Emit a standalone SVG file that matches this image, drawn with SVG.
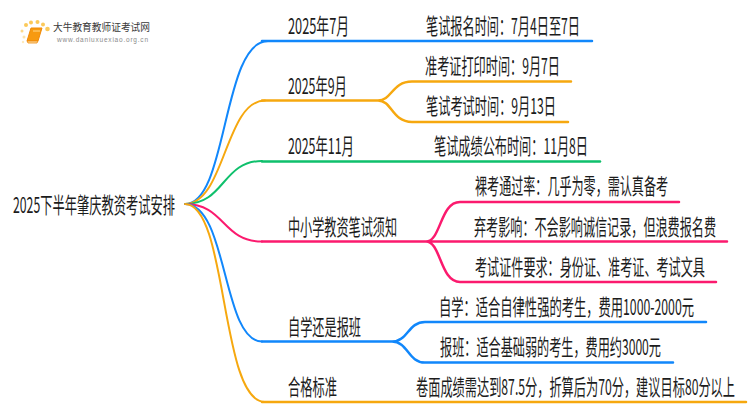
<svg xmlns="http://www.w3.org/2000/svg" width="750" height="410" viewBox="0 0 750 410">
<style>
text{font-family:"Noto Sans CJK SC","Liberation Sans",sans-serif;fill:#1c1c1c;font-size:22px}
.c{fill:none;stroke-linecap:round;stroke-linejoin:round}
.m{stroke-width:2}
.s{stroke-width:2.500}
.b{stroke:#1187fb}.o{stroke:#f6a80f}.g{stroke:#0fc06c}.p{stroke:#fb1a6e}
</style>
<rect width="750" height="410" fill="#ffffff"/>
<g id="logo">
<g fill="#fbc95a">
<circle cx="24" cy="37" r="1.500" opacity=".5"/><circle cx="22" cy="31" r="1.500" opacity=".7"/><circle cx="26" cy="25" r="2"/><circle cx="31" cy="22.500" r="2"/><circle cx="37.500" cy="22" r="2"/><circle cx="43" cy="24.500" r="2"/><circle cx="47.500" cy="29" r="2.300"/><circle cx="23" cy="42" r="1.200" opacity=".4"/>
</g>
<path d="M31 28H42L38 41H27Z" fill="#f79a10" stroke="#f08a08"/>
<path d="M27 41H38L37 43H28Z" fill="#fbd9a0" stroke="#f08a08" stroke-width=".8"/>
<path d="M33 31H40" stroke="#ffd98a" stroke-width="1"/>
<text x="53" y="31" textLength="97" lengthAdjust="spacingAndGlyphs" style="font-size:10.500px;fill:#3a3a3a">大牛教育教师证考试网</text>
<text x="57" y="41.500" textLength="91" lengthAdjust="spacing" style="font-size:6.500px;fill:#8a8a8a;font-family:'Liberation Sans',sans-serif">www.daniuxuexiao.org.cn</text>
</g>
<g id="connectors">
<path class="c m b" d="M185 204C228 204 222 41 268 41"/><path class="c s b" d="M262 41H592"/>
<path class="c m o" d="M185 204C225 204 225 100.500 265 100.500"/><path class="c s o" d="M262 100.500H378C392 100.500 392 81.500 412 81.500H571M378 100.500C392 100.500 392 122 412 122H568"/>
<path class="c m g" d="M185 204C225 204 222 161 262 161"/><path class="c s g" d="M262 161.500H600"/>
<path class="c m p" d="M185 204C225 204 222 241.500 262 241.500"/><path class="c s p" d="M262 241.500H727M426 241.500C441 241.500 440 202 460 202H679M426 241.500C441 241.500 440 282 460 282H716"/>
<path class="c m b" d="M185 204C228 204 222 341.500 262 341.500"/><path class="c s b" d="M262 341.500H392C408 341.500 408 322 425 322H706M392 341.500C408 341.500 408 362.500 425 362.500H673"/>
<path class="c m o" d="M185 204C228 204 220 402 265 402"/><path class="c s o" d="M262 402H746"/>
</g>
<g id="root"><text transform="translate(13 212.500) scale(.6 1)" textLength="270" lengthAdjust="spacingAndGlyphs">2025下半年肇庆教资考试安排</text></g>
<g id="n1"><text transform="translate(288 33.500) scale(.6 1)" textLength="101.700" lengthAdjust="spacingAndGlyphs">2025年7月</text><text transform="translate(426 33.500) scale(.6 1)" textLength="256.700" lengthAdjust="spacingAndGlyphs">笔试报名时间：7月4日至7日</text></g>
<g id="n2"><text transform="translate(288 93.500) scale(.6 1)" textLength="98.300" lengthAdjust="spacingAndGlyphs">2025年9月</text><text transform="translate(425 73.500) scale(.6 1)" textLength="225" lengthAdjust="spacingAndGlyphs">准考证打印时间：9月7日</text><text transform="translate(426 113.500) scale(.6 1)" textLength="216.700" lengthAdjust="spacingAndGlyphs">笔试考试时间：9月13日</text></g>
<g id="n3"><text transform="translate(288 153.500) scale(.6 1)" textLength="110" lengthAdjust="spacingAndGlyphs">2025年11月</text><text transform="translate(434 153.500) scale(.6 1)" textLength="256.700" lengthAdjust="spacingAndGlyphs">笔试成绩公布时间：11月8日</text></g>
<g id="n4"><text transform="translate(288 234.500) scale(.6 1)" textLength="181.700" lengthAdjust="spacingAndGlyphs">中小学教资笔试须知</text><text transform="translate(475 193.500) scale(.6 1)" textLength="321.700" lengthAdjust="spacingAndGlyphs">裸考通过率：几乎为零，需认真备考</text><text transform="translate(474 234.500) scale(.55 1)" textLength="440" lengthAdjust="spacingAndGlyphs">弃考影响：不会影响诚信记录，但浪费报名费</text><text transform="translate(475 274.500) scale(.55 1)" textLength="418" lengthAdjust="spacingAndGlyphs">考试证件要求：身份证、准考证、考试文具</text></g>
<g id="n5"><text transform="translate(288 334.500) scale(.6 1)" textLength="121.700" lengthAdjust="spacingAndGlyphs">自学还是报班</text><text transform="translate(439 314.500) scale(.6 1)" textLength="425" lengthAdjust="spacingAndGlyphs">自学：适合自律性强的考生，费用1000-2000元</text><text transform="translate(440 354.500) scale(.6 1)" textLength="368.300" lengthAdjust="spacingAndGlyphs">报班：适合基础弱的考生，费用约3000元</text></g>
<g id="n6"><text transform="translate(288 394.500) scale(.6 1)" textLength="81.700" lengthAdjust="spacingAndGlyphs">合格标准</text><text transform="translate(416 394.500) scale(.55 1)" textLength="580" lengthAdjust="spacingAndGlyphs">卷面成绩需达到87.5分，折算后为70分，建议目标80分以上</text></g>
</svg>
